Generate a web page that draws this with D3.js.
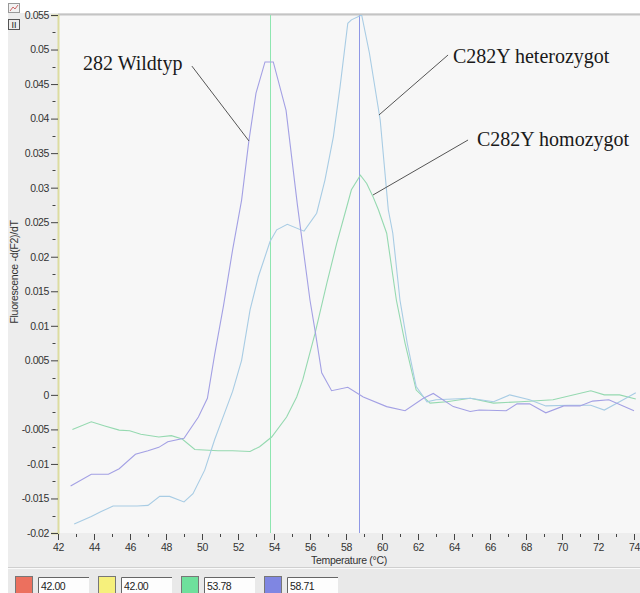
<!DOCTYPE html>
<html>
<head>
<meta charset="utf-8">
<script src="https://cdn.jsdelivr.net/npm/d3@7"></script>
<style>
  body { margin: 0; background: #fff; }
  svg { display: block; }
  .tick text { font-family: "Liberation Sans", Arial, sans-serif; font-size: 10.5px; letter-spacing: -0.4px; fill: #333; }
</style>
</head>
<body>
<div id="container"></div>
<script>
// melting curve data (temperature in °C, -d(F2)/dT)
const wildTemp = [42.7, 43.85, 44.8, 45.4, 46.3, 47.0, 47.6, 48.1, 49.0, 49.8, 50.3, 50.7, 51.2, 51.7, 52.2, 52.6, 53.0, 53.5, 53.96, 54.67, 55.3, 56.0, 56.3, 56.65, 57.2, 58.1, 58.96, 60.26, 61.28, 62.3, 62.85, 63.96, 64.9, 65.4, 66.9, 67.5, 68.2, 69.1, 70.1, 71.0, 71.7, 72.6, 74.0];
const wildVal = [-0.0132, -0.0115, -0.0115, -0.0107, -0.0086, -0.0081, -0.0076, -0.0068, -0.0063, -0.0032, -0.0005, 0.0058, 0.013, 0.021, 0.0282, 0.0367, 0.0437, 0.0482, 0.0482, 0.0412, 0.0275, 0.0137, 0.009, 0.0032, 0.0006, 0.0011, -0.0003, -0.0017, -0.0023, -0.0005, 0.0002, -0.0017, -0.0024, -0.0022, -0.0023, -0.0013, -0.0013, -0.0026, -0.0016, -0.0016, -0.0009, -0.0007, -0.0023];

const heteroTemp = [42.9, 43.85, 44.4, 45.06, 46.4, 47.0, 47.65, 48.2, 49.0, 49.5, 50.15, 50.7, 51.2, 51.7, 52.2, 52.67, 53.13, 53.78, 54.15, 54.74, 55.67, 56.37, 56.83, 57.3, 57.67, 58.1, 58.3, 58.87, 59.3, 59.9, 60.35, 60.6, 61.0, 61.4, 61.9, 62.5, 63.0, 64.9, 66.2, 67.1, 68.2, 69.1, 70.4, 71.6, 72.35, 73.2, 74.1];
const heteroVal = [-0.0187, -0.0176, -0.0169, -0.0161, -0.0161, -0.016, -0.0147, -0.0147, -0.0155, -0.0143, -0.0109, -0.0065, -0.003, 0.0005, 0.005, 0.0123, 0.0171, 0.0222, 0.0239, 0.0247, 0.0237, 0.0263, 0.0311, 0.0374, 0.0446, 0.0538, 0.0543, 0.055, 0.0495, 0.0398, 0.0268, 0.0234, 0.0137, 0.0075, 0.0012, -0.001, -0.0007, -0.0005, -0.001, 0.0, -0.0007, -0.0016, -0.0015, -0.0015, -0.0022, -0.001, 0.0003];

const homoTemp = [42.8, 43.85, 44.6, 45.4, 45.98, 46.6, 47.6, 48.3, 48.9, 49.6, 50.9, 51.7, 52.67, 53.2, 53.87, 54.7, 55.26, 55.6, 56.28, 56.93, 57.48, 58.04, 58.3, 58.8, 59.15, 59.5, 59.8, 60.26, 60.8, 61.28, 61.9, 62.67, 63.6, 64.9, 66.2, 67.7, 69.5, 71.6, 72.35, 73.2, 74.1];
const homoVal = [-0.005, -0.0039, -0.0045, -0.0051, -0.0052, -0.0057, -0.0061, -0.0059, -0.0064, -0.0079, -0.0081, -0.0081, -0.0082, -0.0075, -0.0061, -0.0032, -0.0003, 0.0022, 0.0089, 0.0161, 0.0219, 0.0272, 0.0297, 0.0318, 0.0306, 0.0287, 0.0268, 0.0234, 0.0137, 0.0075, 0.0007, -0.0012, -0.001, -0.0005, -0.0012, -0.001, -0.0007, 0.0006, 0.0, 0.0, -0.0006];

// cursor lines and the boxes under the chart
const cursorTemps = [42.00, 42.00, 53.78, 58.71];
const cursorColors = ["#ec705e", "#f6f07c", "#6ee09c", "#7f86e2"];

// tick values
const xTicks = d3.range(42, 75, 2);
const xMinor = d3.range(43, 74, 2);
const yTicks = d3.range(-0.02, 0.0551, 0.005).map(d => +d.toFixed(3));
const yMinor = d3.range(-0.0175, 0.055, 0.005).map(d => +d.toFixed(4));

// labels with leader lines (text spot, line start, line end in data units)
const labels = ["282 Wildtyp", "C282Y heterozygot", "C282Y homozygot"];
const labelPos = [[43.39, 0.04704], [63.94, 0.04811], [65.28, 0.03603]];
const leaderFrom = [[49.44, 0.0476], [63.67, 0.04921], [64.78, 0.0369]];
const leaderTo = [[52.61, 0.03676], [59.83, 0.04052], [59.5, 0.02894]];

const width = 640, height = 593;
const mLeft = 58, mTop = 15, mBottom = 533, mRight = 634;

const svg = d3.select("#container").append("svg")
  .attr("width", width).attr("height", height);

// window panels
svg.append("rect").attr("x", 8).attr("y", 13).attr("width", width - 8).attr("height", height - 13).attr("fill", "#ededed");
svg.append("rect").attr("x", 8).attr("y", 568).attr("width", width - 8).attr("height", height - 568).attr("fill", "#e9e9e9");
svg.append("line").attr("x1", 8).attr("x2", width).attr("y1", 567.5).attr("y2", 567.5).attr("stroke", "#cfcfcf");
svg.append("line").attr("x1", 8).attr("x2", width).attr("y1", 568.5).attr("y2", 568.5).attr("stroke", "#fafafa");

const xScale = d3.scaleLinear().domain([42, 74]).range([mLeft, mRight]);
const yScale = d3.scaleLinear().domain([-0.02, 0.055]).range([mBottom, mTop]);

// plot background
svg.append("rect").attr("x", mLeft).attr("y", mTop).attr("width", width - mLeft).attr("height", mBottom - mTop).attr("fill", "#f7f7f7");
svg.append("line").attr("x1", mLeft).attr("x2", width).attr("y1", mTop - 0.5).attr("y2", mTop - 0.5).attr("stroke", "#c4c4c4").attr("stroke-width", 2);

svg.append("clipPath").attr("id", "clip")
  .append("rect").attr("x", mLeft).attr("y", mTop).attr("width", width - mLeft).attr("height", mBottom - mTop);

const plot = svg.append("g").attr("clip-path", "url(#clip)");

// cursor lines
plot.selectAll("line.cursor")
  .data([2, 3])
  .join("line")
  .attr("class", "cursor")
  .attr("x1", i => Math.round(xScale(cursorTemps[i])) + 0.5)
  .attr("x2", i => Math.round(xScale(cursorTemps[i])) + 0.5)
  .attr("y1", mTop).attr("y2", mBottom)
  .attr("stroke", i => i == 2 ? "#8ee6b0" : "#8f98e6");

// curves
const series = [
  {t: homoTemp, v: homoVal, color: "#95d9b0"},
  {t: heteroTemp, v: heteroVal, color: "#a8cce4"},
  {t: wildTemp, v: wildVal, color: "#a3a0e4"}
];
const line = d3.line().x(d => xScale(d[0])).y(d => yScale(d[1]));
plot.selectAll("path.curve")
  .data(series)
  .join("path")
  .attr("class", "curve")
  .attr("fill", "none")
  .attr("stroke", d => d.color)
  .attr("stroke-width", 1.1)
  .attr("d", d => line(d.t.map((t, i) => [t, d.v[i]])));

// y axis
const yAxis = svg.append("g")
  .attr("transform", `translate(${mLeft},0)`)
  .call(d3.axisLeft(yScale).tickValues(yTicks).tickSize(7).tickPadding(2)
    .tickFormat(d => String(+d.toFixed(3))));
yAxis.select(".domain").attr("stroke", "#dcdca0").attr("stroke-width", 2);
yAxis.selectAll(".tick line").attr("stroke", "#444");
svg.selectAll("line.yminor")
  .data(yMinor)
  .join("line")
  .attr("class", "yminor")
  .attr("x1", mLeft - 5.5).attr("x2", mLeft - 2.5)
  .attr("y1", d => Math.round(yScale(d)) + 0.5).attr("y2", d => Math.round(yScale(d)) + 0.5)
  .attr("stroke", "#444");

// x axis
const xAxis = svg.append("g")
  .attr("transform", `translate(0,${mBottom + 1})`)
  .call(d3.axisBottom(xScale).tickValues(xTicks).tickSize(6).tickPadding(4));
xAxis.select(".domain").remove();
xAxis.selectAll(".tick line").attr("stroke", "#444");
svg.selectAll("line.xminor")
  .data(xMinor)
  .join("line")
  .attr("class", "xminor")
  .attr("x1", d => Math.round(xScale(d)) + 0.5).attr("x2", d => Math.round(xScale(d)) + 0.5)
  .attr("y1", mBottom + 1).attr("y2", mBottom + 4)
  .attr("stroke", "#444");

svg.append("text")
  .attr("x", 349).attr("y", 564)
  .attr("text-anchor", "middle")
  .style("font-family", "Liberation Sans, Arial, sans-serif").style("font-size", "10.5px").style("letter-spacing", "-0.3px")
  .attr("fill", "#333")
  .text("Temperature (°C)");

svg.append("text")
  .attr("transform", "translate(18,272) rotate(-90)")
  .attr("text-anchor", "middle")
  .style("font-family", "Liberation Sans, Arial, sans-serif").style("font-size", "10.5px").style("letter-spacing", "-0.3px")
  .attr("fill", "#333")
  .text("Fluorescence -d(F2)/dT");

// annotations
svg.selectAll("line.leader")
  .data(labels.map((d, i) => i))
  .join("line")
  .attr("class", "leader")
  .attr("x1", i => xScale(leaderFrom[i][0])).attr("y1", i => yScale(leaderFrom[i][1]))
  .attr("x2", i => xScale(leaderTo[i][0])).attr("y2", i => yScale(leaderTo[i][1]))
  .attr("stroke", "#555").attr("stroke-width", 1);

svg.selectAll("text.label")
  .data(labels)
  .join("text")
  .attr("class", "label")
  .attr("x", (d, i) => xScale(labelPos[i][0]))
  .attr("y", (d, i) => yScale(labelPos[i][1]))
  .style("font-family", "Liberation Serif, Times New Roman, serif")
  .style("font-size", "20px")
  .attr("fill", "#1a1a1a")
  .text(d => d);

// small icons in the top-left corner
svg.append("rect").attr("x", 8.5).attr("y", 3.5).attr("width", 11).attr("height", 9).attr("fill", "#f2f2f2").attr("stroke", "#999");
svg.append("path").attr("d", "M10,11 L13,7 L15,9 L18,5").attr("fill", "none").attr("stroke", "#c66");
svg.append("rect").attr("x", 8.5).attr("y", 19.5).attr("width", 11).attr("height", 10).attr("fill", "#ededed").attr("stroke", "#555");
svg.append("text").attr("x", 14).attr("y", 28).attr("text-anchor", "middle")
  .style("font-family", "Liberation Sans, Arial, sans-serif").style("font-size", "9px").attr("fill", "#222").text("II");

// cursor boxes under the chart
const boxX = [15, 98, 181, 264];
const legend = svg.selectAll("g.cursorbox")
  .data(cursorTemps)
  .join("g")
  .attr("class", "cursorbox")
  .attr("transform", (d, i) => `translate(${boxX[i]},576)`);
legend.append("rect")
  .attr("x", 0.5).attr("y", 0.5).attr("width", 17).attr("height", 18)
  .attr("fill", (d, i) => cursorColors[i]).attr("stroke", "#777");
legend.append("rect")
  .attr("x", 23).attr("y", 1).attr("width", 51).attr("height", 18)
  .attr("fill", "#fdfdfd");
legend.append("path")
  .attr("d", "M23.5,19 L23.5,1.5 L74,1.5")
  .attr("fill", "none").attr("stroke", "#666");
legend.append("text")
  .attr("x", 26).attr("y", 14)
  .style("font-family", "Liberation Sans, Arial, sans-serif").style("font-size", "10.5px").style("letter-spacing", "-0.4px")
  .attr("fill", "#222")
  .text(d => d.toFixed(2));
</script>
</body>
</html>
